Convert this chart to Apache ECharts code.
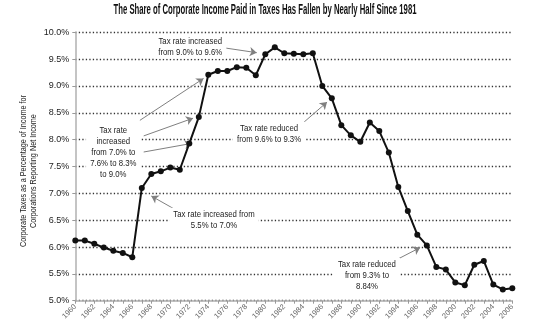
<!DOCTYPE html>
<html>
<head>
<meta charset="utf-8">
<script src="https://cdn.jsdelivr.net/npm/echarts@6/dist/echarts.min.js"></script>
<style>
html,body{margin:0;padding:0;background:#fff;}
#chart{width:538px;height:333px;}
</style>
</head>
<body>
<div id="chart"></div>
<script>
// ---- data ----
const years = [1960,1961,1962,1963,1964,1965,1966,1967,1968,1969,1970,1971,1972,1973,1974,1975,1976,1977,1978,1979,
  1980,1981,1982,1983,1984,1985,1986,1987,1988,1989,1990,1991,1992,1993,1994,1995,1996,1997,1998,1999,
  2000,2001,2002,2003,2004,2005,2006];
const taxShare = [6.12,6.12,6.06,5.99,5.93,5.89,5.81,7.10,7.36,7.41,7.48,7.44,7.93,8.42,9.21,9.28,9.28,9.35,9.34,9.20,
  9.59,9.72,9.61,9.60,9.59,9.61,9.00,8.77,8.27,8.08,7.96,8.32,8.16,7.76,7.12,6.67,6.23,6.03,5.63,5.58,
  5.34,5.29,5.67,5.74,5.30,5.21,5.23];
const yTicks = [5.0,5.5,6.0,6.5,7.0,7.5,8.0,8.5,9.0,9.5,10.0];
const titleText = 'The Share of Corporate Income Paid in Taxes Has Fallen by Nearly Half Since 1981';
const yAxisNameLines = ['Corporate Taxes as a Percentage of Income for', 'Corporations Reporting Net Income'];

// annotation texts with anchor (data space) and arrows (data space)
const noteTexts = [
  'Tax rate increased\nfrom 9.0% to 9.6%',
  'Tax rate\nincreased\nfrom 7.0% to\n7.6% to 8.3%\nto 9.0%',
  'Tax rate increased from\n5.5% to 7.0%',
  'Tax rate reduced\nfrom 9.6% to 9.3%',
  'Tax rate reduced\nfrom 9.3% to\n8.84%'
];
const noteAnchors = [[1972.1,9.73],[1964.0,7.76],[1974.6,6.51],[1980.4,8.11],[1990.7,5.47]];
const arrowFrom = [[1973.8,9.76],[1966.8,8.36],[1967.2,8.07],[1967.2,7.77],[1970.5,6.70],[1983.9,8.30],[1994.0,5.78]];
const arrowTo   = [[1979.1,9.62],[1973.5,9.14],[1972.4,8.40],[1972.25,7.93],[1968.0,6.95],[1986.5,8.70],[1996.3,5.99]];

// ---- chart ----
const FONT = '"Liberation Sans Narrow", "Arial Narrow", "Liberation Sans", sans-serif';
const chart = echarts.init(document.getElementById('chart'), null, {renderer:'canvas'});
const seriesData = years.map((y,i)=>[y, taxShare[i]]);
const arrows = arrowFrom.map((f,i)=>[{coord:f},{coord:arrowTo[i]}]);

chart.setOption({
  animation:false,
  backgroundColor:'#fff',
  grid:{left:75.3, right:25.7, top:32.3, bottom:32.3},
  xAxis:{
    type:'value', min:1960, max:2006, interval:1,
    axisLine:{show:true, onZero:false, lineStyle:{color:'#b0b0b0', width:1.5}},
    axisTick:{show:true, length:3, lineStyle:{color:'#999'}},
    splitLine:{show:false},
    axisLabel:{rotate:45, fontSize:7.5, color:'#666', fontFamily:FONT, margin:5,
      formatter:v => (v%2===0 ? String(v) : '')}
  },
  yAxis:{
    type:'value', min:5, max:10, interval:0.5,
    axisLine:{show:true, lineStyle:{color:'#b0b0b0', width:1.5}},
    axisTick:{show:true, length:3, lineStyle:{color:'#999'}},
    splitLine:{show:true, lineStyle:{color:'#333', width:1.3, type:[1.3,2.2]}},
    axisLabel:{fontSize:9, color:'#222', fontFamily:FONT, margin:6,
      formatter:v => v.toFixed(1)+'%'}
  },
  series:[{
    type:'line', data:seriesData, symbol:'circle', symbolSize:6,
    itemStyle:{color:'#111'}, lineStyle:{color:'#111', width:2},
    z:5,
    markLine:{
      silent:true, symbol:['none','arrow'], symbolSize:7,
      label:{show:false},
      lineStyle:{color:'#808080', width:1, type:'solid'},
      data:arrows
    }
  }]
});

const ctx = document.createElement('canvas').getContext('2d');
function widthOf(text, font){ ctx.font = font; return ctx.measureText(text).width; }

// title with measured horizontal scaling
const titleFont = 'bold 14px ' + FONT;
const titleScale = 303 / widthOf(titleText, titleFont);

const noteFont = '9.5px ' + FONT;
const noteScale = 58 / widthOf('Tax rate reduced', noteFont);

const nameFont = '9px ' + FONT;
const nameScale = 152 / widthOf(yAxisNameLines[0], nameFont);

const graphics = [{
  type:'text', x:265, y:10.5, scaleX:titleScale, z:10,
  style:{text:titleText, x:0, y:0, font:titleFont, fill:'#111', align:'center', verticalAlign:'middle'}
},{
  type:'text', x:28.5, y:171, rotation:Math.PI/2, scaleX:nameScale, z:10,
  style:{text:yAxisNameLines.join('\n'), x:0, y:0, font:nameFont, fill:'#222', align:'center',
    verticalAlign:'middle', lineHeight:10}
}];
noteTexts.forEach((t,i)=>{
  const p = chart.convertToPixel({xAxisIndex:0, yAxisIndex:0}, noteAnchors[i]);
  graphics.push({
    type:'text', x:p[0], y:p[1], z:8, scaleX:noteScale,
    style:{text:t, x:0, y:0, font:noteFont, fill:'#222', align:'center', verticalAlign:'middle',
      lineHeight:11, backgroundColor:'#fff', padding:[1,5]}
  });
});
chart.setOption({graphic:graphics});
</script>
</body>
</html>
